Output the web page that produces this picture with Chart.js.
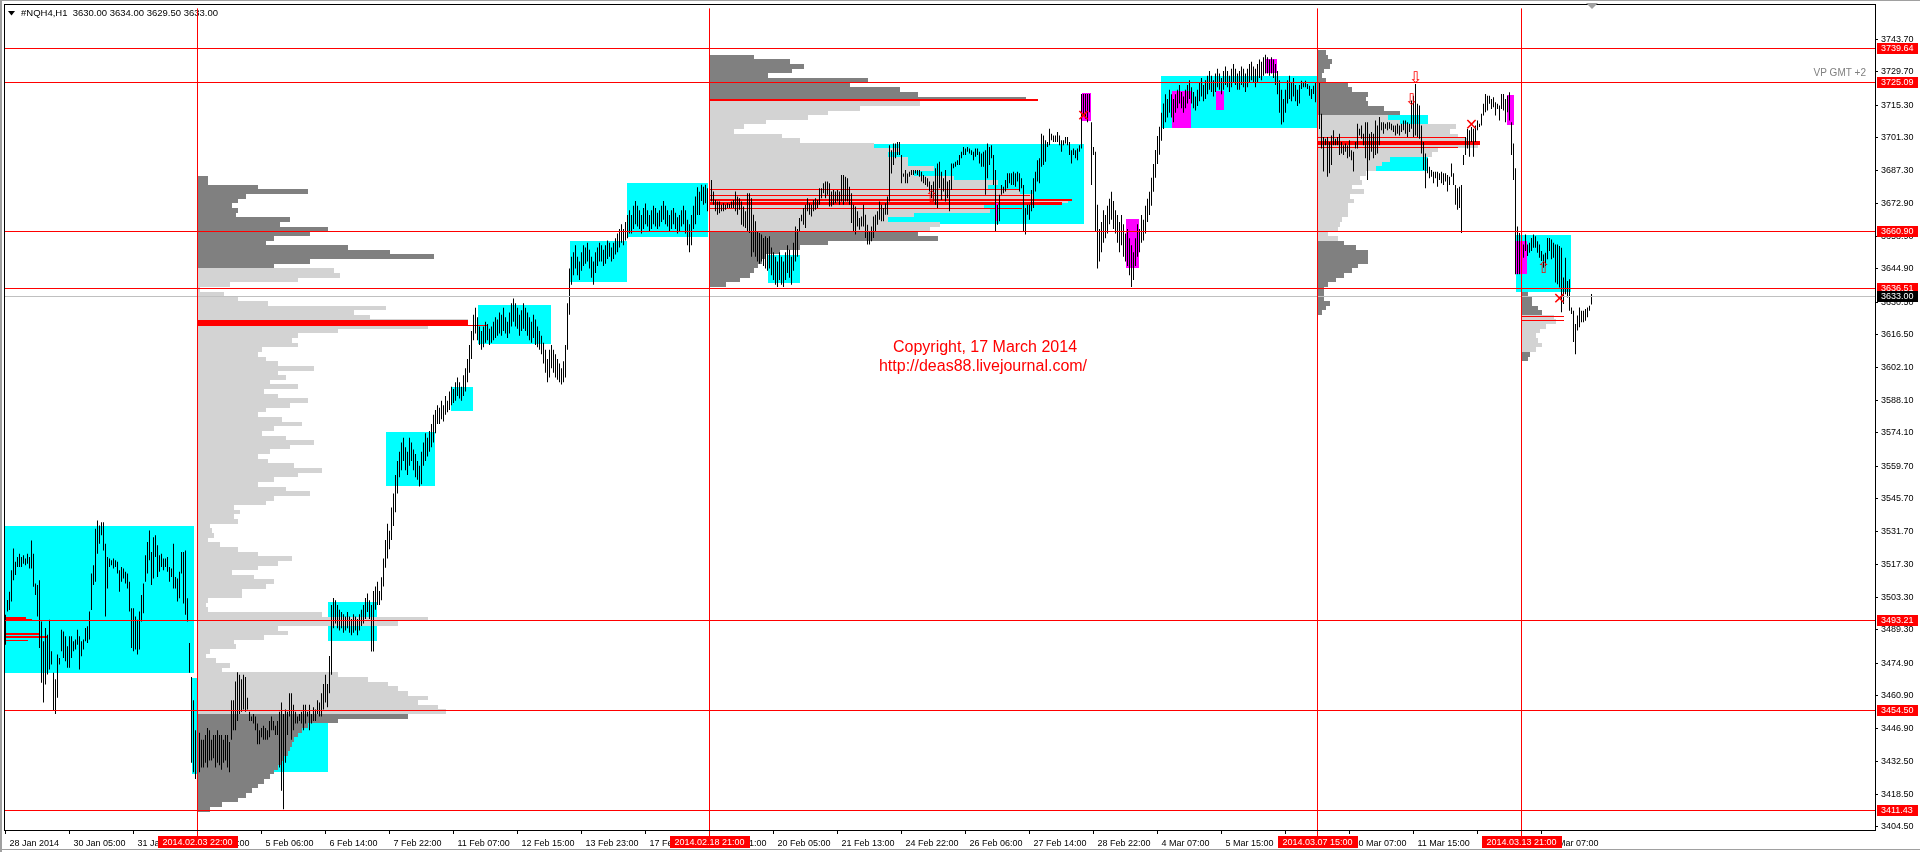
<!DOCTYPE html>
<html><head><meta charset="utf-8">
<script src="https://cdn.jsdelivr.net/npm/chart.js@4.4.0/dist/chart.umd.min.js"></script>
<style>html,body{margin:0;padding:0;background:#fff;overflow:hidden}canvas{display:block}</style>
</head><body>
<canvas id="c" width="1920" height="852"></canvas>
<script>
// ---- hourly bars of #NQH4,H1 : [high, low] ----
const barHL = [
[3495.8,3482.9],[3502.2,3497.2],[3505.7,3497.9],[3515.0,3501.5],[3524.3,3510.7],[3518.6,3512.9],[3520.7,3516.4],[3522.1,3516.4],[3520.7,3516.4],[3521.4,3517.8],
[3520.0,3517.1],[3522.1,3517.8],[3520.7,3515.7],[3527.8,3515.7],[3522.1,3507.9],[3509.3,3504.3],[3508.6,3495.0],[3510.7,3481.5],[3492.9,3466.5],[3484.4,3458.0],
[3490.1,3465.8],[3487.2,3470.1],[3493.6,3472.2],[3480.1,3474.4],[3470.8,3454.4],[3468.0,3453.0],[3478.7,3460.1],[3477.2,3474.4],[3489.3,3480.1],[3488.6,3477.2],
[3486.5,3475.8],[3482.2,3473.0],[3486.5,3473.0],[3486.5,3477.2],[3484.4,3480.1],[3485.1,3480.8],[3489.3,3482.9],[3486.5,3472.2],[3484.4,3477.9],[3485.1,3480.8],
[3490.1,3484.4],[3490.8,3483.6],[3497.2,3485.1],[3513.6,3497.9],[3517.1,3508.6],[3532.8,3510.0],[3536.4,3522.1],[3534.2,3526.4],[3535.7,3530.0],[3535.7,3523.5],
[3526.4,3495.0],[3520.7,3507.1],[3520.0,3516.4],[3519.3,3517.1],[3520.0,3515.7],[3519.3,3516.4],[3518.6,3513.6],[3515.0,3505.7],[3516.4,3510.0],[3515.7,3511.4],
[3514.3,3509.3],[3513.6,3507.1],[3510.0,3497.2],[3498.6,3481.5],[3498.6,3480.1],[3495.0,3480.8],[3493.6,3478.7],[3497.2,3480.8],[3504.3,3492.9],[3509.3,3496.5],
[3521.4,3510.0],[3527.1,3513.6],[3532.1,3519.3],[3522.8,3508.6],[3529.2,3511.4],[3530.0,3520.7],[3525.7,3512.1],[3521.4,3514.3],[3522.1,3516.4],[3520.0,3515.0],
[3520.0,3516.4],[3520.7,3514.3],[3516.4,3510.0],[3515.7,3512.1],[3526.4,3507.1],[3512.1,3507.1],[3511.4,3501.5],[3514.3,3502.9],[3522.8,3513.6],[3522.8,3500.7],
[3523.5,3495.8],[3502.9,3492.9],[3483.6,3470.8],
[3469,3432],[3459,3428],[3446,3425],[3440,3426],[3445,3428],[3442,3430],[3442,3430],[3444,3432],[3447,3430],[3446,3433],
[3442,3433],[3444,3434],[3444,3430],[3446,3432],[3444,3431],[3444,3429],[3442,3432],[3444,3433],[3444,3430],[3441,3428],
[3459,3442],[3459,3446],[3467,3446],[3471,3450],[3470,3453],[3468,3454],[3470,3455],[3469,3454],[3460,3455],[3454,3450],
[3452,3450],[3453,3449],[3452,3446],[3449,3440],[3446,3440],[3447,3443],[3448,3442],[3447,3442],[3446,3442],[3450,3443],
[3452,3446],[3450,3446],[3448,3444],[3450,3444],[3454,3430],[3458,3420],[3453,3412],[3455,3432],[3454,3444],[3462,3452],
[3462,3442],[3457,3446],[3454,3449],[3452,3449],[3453,3450],[3454,3449],[3457,3446],[3457,3449],[3454,3452],[3457,3446],
[3453,3449],[3456,3450],[3455,3450],[3459,3453],[3458,3452],
[3462,3452],[3466,3455],[3470,3458],[3466,3456],[3478,3462],[3500,3470],[3503,3490],
[3502,3492],[3500,3490],[3498,3489],[3497,3490],[3496,3488],[3495,3489],[3497,3490],[3495,3488],[3494,3487],[3496,3488],
[3495,3489],[3494,3487],[3496,3489],[3498,3491],[3500,3492],[3503,3494],[3505,3497],[3502,3494],[3500,3480],[3506,3480],
[3508,3498],[3510,3500],[3506,3500],
[3512,3502],[3520,3508],[3528,3516],[3535,3520],[3532,3524],[3542,3528],[3548,3534],[3556,3540],[3562,3548],[3566,3555],
[3570,3558],[3572,3562],[3568,3558],[3566,3556],[3572,3560],[3570,3562],[3567,3558],[3565,3555],[3562,3554],[3560,3551],
[3566,3552],[3570,3560],[3574,3562],[3572,3564],[3575,3566],[3578,3568],
[3582,3570],[3584,3574],[3586,3578],[3585,3578],[3588,3580],[3586,3579],[3590,3582],[3588,3583],[3592,3584],[3594,3586],
[3593,3587],[3596,3588],[3598,3590],[3596,3589],[3594,3588],[3599,3590],[3602,3592],[3606,3596],[3612,3600],[3618,3606],
[3625,3614],[3628,3617],[3624,3614],[3620,3612],[3618,3610],[3620,3611],[3622,3613],[3621,3614],[3619,3612],[3620,3613],
[3622,3614],[3624,3615],[3623,3616],[3626,3617],[3625,3616],[3628,3618],[3624,3617],[3622,3615],[3626,3617],[3630,3620],
[3632,3622],[3630,3620],[3628,3619],[3625,3616],[3627,3618],[3630,3619],[3628,3618],[3626,3616],[3624,3614],[3622,3613],
[3625,3615],[3623,3612],[3620,3611],[3618,3610],[3616,3608],[3613,3604],[3610,3600],[3606,3596],[3610,3598],
[3612,3602],[3610,3600],[3608,3598],[3606,3597],[3604,3596],[3602,3595],[3605,3596],[3612,3598],[3630,3610],[3645,3625],[3650,3638],
[3652,3642],[3655,3645],[3650,3642],[3648,3640],[3652,3644],[3655,3646],[3654,3647],[3656,3648],[3653,3645],[3650,3641],
[3648,3638],[3652,3643],[3654,3646],[3656,3648],[3655,3648],[3653,3646],[3655,3647],[3657,3649],[3656,3650],[3654,3648],
[3656,3649],[3658,3651],[3660,3652],[3662,3654],[3664,3656],[3662,3655],[3665,3657],[3668,3658],
[3670,3660],[3668,3660],[3672,3662],[3674,3664],[3672,3663],[3670,3662],[3668,3660],[3671,3662],[3673,3664],[3670,3663],
[3668,3661],[3670,3662],[3672,3664],[3671,3663],[3669,3662],[3670,3663],[3672,3665],[3674,3666],[3672,3664],[3670,3663],
[3668,3661],[3670,3662],[3671,3664],[3669,3662],[3667,3660],[3668,3661],[3670,3663],[3672,3664],[3670,3660],[3666,3655],
[3664,3652],[3668,3655],[3672,3662],[3676,3664],[3680,3668],[3678,3668],
[3681.0,3674.0],[3680.2,3672.4],[3681.0,3673.1],[3679.5,3669.6],[3682.4,3675.2],[3683.1,3673.8],[3678.1,3672.4],[3674.5,3669.6],[3673.8,3668.1],[3673.8,3668.8],
[3672.4,3669.6],[3673.1,3669.6],[3672.4,3670.3],[3673.1,3671.0],[3672.7,3671.0],[3673.8,3671.0],[3674.5,3671.0],[3678.1,3669.6],[3676.0,3668.1],[3675.2,3670.3],
[3673.8,3663.8],[3671.7,3663.1],[3669.6,3662.4],[3677.4,3661.0],[3677.4,3660.3],[3675.2,3650.0],[3668.1,3652.0],[3665.3,3650.0],[3661.0,3648.0],[3660.3,3647.0],
[3659.6,3648.0],[3658.1,3646.0],[3658.9,3645.0],[3658.1,3644.0],[3658.9,3645.0],[3654,3642],[3652,3640],[3650,3638],[3648,3637],[3652,3640],
[3650,3638],[3648,3637],[3652,3640],[3655,3643],[3653,3641],[3650,3638],[3656,3644],[3663,3648],[3662,3650],[3666.7,3661.0],
[3668.1,3665.3],[3671.0,3663.8],[3672.4,3662.4],[3675.2,3669.6],[3673.1,3668.1],[3672.4,3667.4],[3674.5,3669.6],[3675.2,3670.3],[3674.5,3671.0],[3679.5,3672.4],
[3679.5,3675.2],[3681.7,3677.4],[3682.4,3675.2],[3682.4,3676.7],[3681.7,3671.7],[3678.1,3671.7],[3678.8,3672.4],[3678.1,3673.1],[3678.8,3673.8],[3678.1,3672.4],
[3685.2,3673.8],[3685.2,3672.4],[3684.5,3673.8],[3683.8,3673.8],[3680.2,3672.4],[3677.4,3664.6],[3672.4,3661.0],[3671.7,3659.6],[3669.6,3663.1],[3666.7,3661.7],
[3667.4,3663.1],[3672.4,3663.1],[3668.1,3658.1],[3663.8,3655.3],[3661.0,3655.3],[3663.1,3656.7],[3667.4,3658.1],[3668.1,3661.0],[3669.6,3663.8],[3673.8,3666.0],
[3672.4,3665.3],[3671.0,3665.3],[3673.1,3668.1],[3676.0,3668.1],[3698.1,3673.8],[3695.9,3685.9],[3698.8,3689.5],[3698.8,3692.4],[3699.5,3693.8],[3699.5,3693.8],
[3693.8,3681.7],[3685.9,3684.5],[3687.4,3681.7],[3685.9,3681.7],[3686.6,3684.5],[3687.4,3685.2],[3687.4,3685.2],[3687.4,3685.9],[3687.4,3685.2],[3687.4,3684.5],
[3686.6,3682.4],[3685.2,3681.7],[3684.5,3680.9],[3683.8,3680.2],[3682.4,3678.1],[3680.9,3675.2],[3682.4,3673.8],[3688.1,3672.4],[3690.2,3671.0],[3690.9,3679.5],
[3686.6,3674.5],[3683.8,3678.1],[3687.4,3673.8],[3682.4,3675.2],[3683.1,3669.6],[3690.2,3678.8],[3690.2,3688.1],[3690.9,3688.8],[3691.6,3689.5],[3693.8,3689.5],
[3695.2,3692.4],[3697.3,3693.8],[3696.6,3693.8],[3697.3,3695.2],[3696.6,3694.5],[3695.9,3693.8],[3695.2,3691.6],[3696.6,3693.1],[3696.6,3693.8],[3695.2,3690.2],
[3694.5,3688.8],[3695.2,3688.8],[3695.9,3676.7],[3698.8,3683.8],[3697.3,3689.5],[3698.1,3692.4],[3693.8,3680.9],[3687.4,3661.0],[3672.4,3663.8],[3676.7,3665.3],
[3680.9,3676.7],[3680.2,3677.4],[3683.1,3678.1],[3686.0,3679.5],[3686.0,3681.7],[3686.0,3680.9],[3686.6,3680.9],[3686.0,3680.2],[3686.6,3682.4],[3686.0,3678.1],
[3683.8,3679.5],[3680.9,3661.0],[3671.0,3659.6],[3672.4,3668.1],[3672.4,3666.0],[3678.8,3669.6],[3683.8,3671.0],[3686.6,3678.1],[3691.6,3682.4],[3692.4,3681.7],
[3703.0,3688.8],[3702.3,3689.5],[3700.2,3690.9],[3699.5,3697.3],[3705.2,3698.1],[3703.0,3700.2],[3702.3,3699.5],[3702.3,3699.5],[3703.8,3699.5],[3702.3,3698.1],
[3700.2,3695.2],[3700.2,3698.1],[3701.6,3698.8],[3701.6,3698.1],[3699.5,3693.8],[3695.9,3690.2],[3696.6,3693.8],[3695.9,3692.4],[3696.6,3691.6],[3698.1,3695.2],
[3720.1,3696.6],[3720.1,3710.9],[3720.1,3709.5],[3720.1,3708.0],[3720.1,3712.3],[3708.0,3680.9],[3697.3,3693.8],[3695.2,3661.0],[3672.4,3645.0],
[3662,3648],[3665,3652],[3670,3656],[3668,3658],[3672,3660],[3675,3664],[3678,3666],[3674,3662],[3670,3660],[3668,3656],
[3665,3652],[3668,3655],[3664,3650],[3660,3648],[3662,3646],[3658,3642],[3655,3637],[3652,3640],[3658,3646],[3664,3650],
[3662,3652],[3668,3656],[3666,3657],[3672,3660],[3675,3665],[3678,3668],[3684,3672],[3690,3678],[3696,3684],[3702,3690],
[3706,3694],[3712,3700],[3716,3705],[3720,3708],[3718,3710],[3722,3712],[3720,3710],[3718,3708],[3720,3712],[3722,3714],
[3724,3716],[3721,3714],[3719,3712],[3722,3714],[3724,3716],[3726,3718],[3723,3716],[3721,3714],[3719,3713],[3722,3715],
[3725,3717],[3727,3719],[3724,3717],[3726,3718],[3728,3720],[3730,3722],[3728,3721],[3726,3719],[3729,3721],[3731,3723],
[3729,3722],[3727,3720],[3730,3722],[3732,3724],[3730,3723],[3728,3721],[3731,3723],[3733,3725],[3731,3724],[3729,3722],
[3730,3722],[3732,3724],[3731,3723],[3729,3721],[3731,3723],[3733,3725],[3734,3726],[3732,3725],[3731,3723],[3733,3725],
[3735,3727],[3734,3726],[3736,3728],[3737,3729],[3736,3729],[3735,3728],[3736,3729],[3735,3727],[3733,3724],[3730,3720],
[3726,3712],[3722,3707],[3718,3708],[3722,3712],[3726,3716],[3728,3718],[3725,3717],[3727,3719],[3724,3717],[3722,3715],
[3724,3716],
[3725.8,3722.3],[3725.1,3723.0],[3725.8,3723.0],[3724.4,3722.3],[3723.7,3719.4],[3722.3,3718.0],[3723.7,3720.1],[3725.1,3716.6],[3738.5,3716.0],[3725.0,3705.0],
[3711.6,3696.6],[3701.6,3686.7],[3700.9,3698.1],[3701.6,3684.5],[3699.5,3686.0],[3702.3,3689.5],[3704.5,3698.1],[3700.9,3698.1],[3701.6,3698.1],[3703.0,3693.8],
[3699.5,3694.5],[3698.1,3693.8],[3698.8,3695.2],[3698.1,3692.4],[3700.2,3693.1],[3695.9,3691.6],[3695.2,3686.7],[3699.5,3696.6],[3707.3,3696.6],[3705.2,3702.3],
[3706.6,3700.9],[3703.0,3698.1],[3708.0,3692.4],[3708.0,3683.1],[3703.0,3691.6],[3703.8,3695.2],[3703.0,3692.4],[3708.7,3693.8],[3706.6,3694.5],[3710.2,3698.1],
[3708.0,3704.5],[3708.0,3703.0],[3707.3,3705.2],[3708.0,3704.5],[3708.0,3705.2],[3707.3,3704.5],[3706.6,3703.8],[3706.6,3702.3],[3707.3,3703.0],[3706.6,3702.3],
[3707.3,3703.8],[3708.7,3704.5],[3708.7,3703.0],[3708.0,3701.6],[3707.3,3703.8],[3717.3,3705.2],[3719.4,3701.6],[3724.4,3702.3],[3715.9,3701.6],[3715.2,3700.9],
[3706.6,3694.5],[3699.5,3687.4],[3694.5,3679.5],[3692.4,3686.0],[3688.8,3683.8],[3687.4,3684.5],[3686.6,3681.7],[3686.6,3683.8],[3686.6,3680.2],[3686.0,3683.1],
[3686.6,3681.7],[3686.0,3680.9],[3686.0,3682.4],[3685.2,3678.1],[3684.5,3680.9],[3690.2,3684.5],[3686.0,3680.9],[3680.9,3672.4],[3679.5,3670.3],[3680.2,3671.0],
[3680.9,3660.3],[3693.8,3689.5],[3701.6,3693.8],[3705.2,3696.6],[3704.5,3693.1],[3705.9,3699.5],[3705.2,3693.1],[3706.6,3699.5],[3708.7,3704.5],[3707.3,3705.9],
[3711.6,3706.6],[3715.9,3710.9],[3720.1,3712.3],[3719.4,3713.0],[3719.4,3715.9],[3718.0,3713.7],[3718.7,3714.4],[3716.6,3710.9],[3715.9,3713.7],[3715.2,3708.7],
[3720.1,3713.7],[3720.1,3713.0],[3718.0,3708.0],[3719.4,3712.3],[3720.9,3708.7],[3708.0,3693.8],[3698.8,3683.1],[3688.1,3642.5],[3663.1,3642.5],[3660.3,3642.5],
[3659.6,3641.1],[3655.3,3649.6],[3659.6,3652.5],[3655.3,3650.3],[3656.0,3651.7],[3658.1,3652.5],[3659.6,3653.9],[3658.9,3653.9],[3656.7,3651.7],[3655.3,3649.6],
[3652.5,3648.2],[3651.0,3645.3],[3651.7,3646.0],[3658.1,3648.9],[3658.1,3652.5],[3657.4,3648.9],[3656.0,3649.6],[3655.3,3638.9],[3655.3,3638.2],[3654.6,3636.8],
[3653.9,3626.1],[3641.1,3629.7],[3649.6,3633.9],[3639.6,3632.5],[3640.3,3626.8],[3628.2,3625.4],[3626.8,3613.3],[3621.1,3608.0],[3624.7,3618.3],[3628.2,3619.7],
[3626.8,3621.8],[3626.8,3621.8],[3627.5,3622.5],[3628.2,3624.0],[3628.9,3626.8],[3634.0,3629.5]
];

// ---- axes ----
const yTickValues = [3743.70,3729.70,3715.30,3701.30,3687.30,3672.90,3658.90,3644.90,3630.50,3616.50,3602.10,3588.10,3574.10,3559.70,3545.70,3531.70,3517.30,3503.30,3489.30,3474.90,3460.90,3446.90,3432.50,3418.50,3404.50];
const xTickBars = [0,32,64,96,128,160,192,224,256,288,320,352,384,416,448,480,512,544,576,608,640,672,704,736,768];
const xTickLabels = ['28 Jan 2014','30 Jan 05:00','31 Jan 13:00','3 Feb 22:00','5 Feb 06:00','6 Feb 14:00','7 Feb 22:00','11 Feb 07:00','12 Feb 15:00','13 Feb 23:00','17 Feb 07:00','18 Feb 21:00','20 Feb 05:00','21 Feb 13:00','24 Feb 22:00','26 Feb 06:00','27 Feb 14:00','28 Feb 22:00','4 Mar 07:00','5 Mar 15:00','6 Mar 23:00','10 Mar 07:00','11 Mar 15:00','12 Mar 23:00','14 Mar 07:00'];

// ---- levels and sessions ----
const levelPrices = [3739.64,3725.09,3660.90,3636.51,3493.21,3454.50,3411.43];
const currentPrice = 3633.00;
const sessionBars = [96,352,656,758];
const sessionLabels = ['2014.02.03 22:00','2014.02.18 21:00','2014.03.07 15:00','2014.03.13 21:00'];

// ---- volume profiles (row length in bars, rows every 2 points from the top price down) ----
const profileStartBar = [96,352,656,758];
const profileTopPrice = [3684,3736,3738,3634];
const profileValueArea = [[3453,3645],[3661,3717],[3657,3711],[3609,3625]];
const profile1Rows = [5,5,30,55,24,20,17,20,19,46,
41,65,56,38,34,75,96,118,56,38,
68,71,50,16,1,13,20,35,94,78,
86,135,115,70,50,47,50,32,30,34,
40,58,40,44,36,50,33,40,55,46,
34,30,42,52,38,32,44,58,46,36,
30,35,48,62,50,38,30,44,56,38,
34,18,21,18,20,6,7,8,5,11,
20,30,47,40,30,17,28,38,34,22,
22,5,4,5,62,115,100,40,45,33,
18,19,6,4,9,16,12,70,85,95,
100,105,115,110,120,124,105,70,55,52,
50,48,47,46,45,43,42,40,38,36,
33,30,27,24,20,12,6];
const profile2Rows = [22,40,47,41,29,79,70,95,104,158,
105,75,59,49,28,17,12,36,45,82,
95,89,99,99,112,102,122,144,139,155,
162,179,137,140,102,89,115,110,104,114,
59,45,35,28,26,24,22,20,15,8];
const profile3Rows = [4,5,7,6,3,2,4,15,17,25,
24,25,33,41,35,41,69,66,70,75,
80,60,57,36,32,29,24,21,22,17,
23,16,18,15,15,15,12,11,10,5,
10,13,19,25,25,25,20,17,13,9,
5,3,3,3,6,4,2];
const profile4Rows = [3,5,5,8,10,16,17,12,9,7,8,10,7,4,3];

// ---- red POC / level segments: [price, fromBar, toBar, thickness] ----
const redSegments = [
[3494.6,-0.75,10,2],[3493.8,-0.75,13,1],[3487.5,-0.75,17,2],[3486.2,-0.75,21,2],[3484.6,-0.75,11,1],
[3621.3,96,231,6],[3620.5,96,241,1],
[3717.7,352,516,2],[3679.2,352,507,1],[3676.2,352,512,1],[3674.3,352,533,2],[3673.0,352,528,3],[3671.0,352,508,1],
[3701.3,656,730,1],[3699.0,656,737,4],[3697.1,656,726,1],
[3624.4,758,779,1],[3622.7,758,779,1]
];

// ---- boxes: [fromBar, toBar, lowPrice, highPrice] ----
const cyanBoxes = [
[-0.75,94,3470.7,3533.9],[93,96,3427,3468.7],[134,161,3428,3468],[161.3,185.8,3484.6,3501.4],
[190,214.6,3551.1,3574.7],[222.6,233.6,3583.6,3594],[236,272.7,3612.4,3629.1],[282,310.7,3639.1,3656.9],
[310.7,351,3658.4,3682],[381,397,3638.5,3650.6],[432,539,3664.3,3698.5],[577.5,655.5,3705.5,3728],
[685,711,3686.9,3710.9],[755,782.7,3635,3659.6]
];
const magentaBoxes = [
[538,542.7,3708.3,3720.4],[560.4,566.5,3645.3,3666.3],[583,592.8,3705.5,3721.3],[605,609.3,3713.4,3721.3],
[629.5,635.6,3729.1,3735.4],[750.7,754,3706.6,3719.7],[755,760.7,3642.5,3657],[494.8,496.3,3665.3,3673]
];
// ---- signal markers: [bar, price, glyph] ----
const markers = [[705,3726.8,'\u21E9'],[703,3717.3,'\u21E9'],[769,3644.6,'\u21E7'],[463,3675.3,'\u21E7'],[733,3706.6,'\u2715'],[777,3631.5,'\u2715'],[539,3710.2,'\u2715']];

const FONT = '"Liberation Sans", Arial, sans-serif';

const overlay = {
  id: 'overlay',
  beforeDatasetsDraw(chart) {
    const {ctx, chartArea: a, scales: {x, y}} = chart;
    const rx = v => Math.round(x.getPixelForValue(v));
    const ry = v => Math.round(y.getPixelForValue(v));
    ctx.save();
    ctx.beginPath(); ctx.rect(a.left, a.top, a.right - a.left, a.bottom - a.top); ctx.clip();
    const box = (b, c) => { const x0 = rx(b[0]), x1 = rx(b[1]), y0 = ry(b[3]), y1 = ry(b[2]); ctx.fillStyle = c; ctx.fillRect(x0, y0, x1 - x0, y1 - y0); };
    cyanBoxes.forEach(b => box(b, '#00ffff'));
    const rowsList = [profile1Rows, profile2Rows, profile3Rows, profile4Rows];
    rowsList.forEach((rows, k) => {
      const s = profileStartBar[k], va = profileValueArea[k];
      rows.forEach((len, r) => {
        const p = profileTopPrice[k] - 2 * r;
        const y0 = ry(p + 1), y1 = ry(p - 1), x0 = rx(s), x1 = rx(s + len);
        ctx.fillStyle = (p > va[0] && p < va[1]) ? '#d3d3d3' : '#808080';
        ctx.fillRect(x0, y0, x1 - x0, y1 - y0);
      });
    });
    ctx.fillStyle = '#ff0000';
    redSegments.forEach(s => {
      const yy = y.getPixelForValue(s[0]);
      const x0 = rx(s[1]), x1 = rx(s[2]);
      ctx.fillRect(x0, Math.round(yy - s[3] / 2), x1 - x0, s[3]);
    });
    magentaBoxes.forEach(b => box(b, '#ff00ff'));
    // header
    ctx.fillStyle = '#000';
    ctx.beginPath(); ctx.moveTo(8, 11); ctx.lineTo(15, 11); ctx.lineTo(11.5, 15.5); ctx.closePath(); ctx.fill();
    ctx.font = '9.5px ' + FONT; ctx.textBaseline = 'middle'; ctx.textAlign = 'left';
    ctx.fillText('#NQH4,H1  3630.00 3634.00 3629.50 3633.00', 21, 13.5);
    ctx.restore();
  },
  afterDatasetsDraw(chart) {
    const {ctx, chartArea: a, scales: {x, y}} = chart;
    ctx.save();
    ctx.fillStyle = '#c0c0c0';
    ctx.fillRect(a.left, Math.floor(y.getPixelForValue(currentPrice)), a.right - a.left, 1);
    ctx.fillStyle = '#ff0000';
    levelPrices.forEach(p => ctx.fillRect(a.left, Math.floor(y.getPixelForValue(p)), a.right - a.left, 1));
    sessionBars.forEach(b => ctx.fillRect(Math.floor(x.getPixelForValue(b)), a.top, 1, a.bottom - a.top + 7));
    ctx.font = '16px "DejaVu Sans"'; ctx.textAlign = 'center'; ctx.textBaseline = 'middle';
    markers.forEach(m => { ctx.fillStyle = '#ff0000'; ctx.fillText(m[2], x.getPixelForValue(m[0]), y.getPixelForValue(m[1])); });
    ctx.fillStyle = '#ff0000'; ctx.font = '16px ' + FONT;
    ctx.fillText('Copyright, 17 March 2014', 985, 348);
    ctx.fillText('http://deas88.livejournal.com/', 983, 367);
    ctx.fillStyle = '#808080'; ctx.font = '10px ' + FONT; ctx.textAlign = 'right';
    ctx.fillText('VP GMT +2', 1866, 73);
    ctx.restore();
  },
  afterDraw(chart) {
    const {ctx, chartArea: a, scales: {x, y}} = chart;
    ctx.save();
    ctx.fillStyle = '#000';
    ctx.fillRect(4, 4, a.right - 3, 1);
    ctx.fillRect(4, 4, 1, a.bottom - 3);
    ctx.fillRect(a.right, 4, 1, a.bottom - 3);
    ctx.fillRect(4, a.bottom, a.right - 3, 1);
    ctx.fillStyle = '#a0a0a0';
    ctx.fillRect(0, 0, 1920, 1);
    ctx.fillRect(0, 0, 2, 852);
    ctx.fillRect(0, 849, 1920, 1);
    ctx.beginPath(); ctx.moveTo(1586, 3); ctx.lineTo(1598, 3); ctx.lineTo(1592, 9); ctx.closePath(); ctx.fill();
    ctx.font = '9px ' + FONT; ctx.textBaseline = 'middle';
    const lab = (p, bg) => {
      const yy = Math.floor(y.getPixelForValue(p)) + 0.5;
      ctx.fillStyle = bg; ctx.fillRect(a.right + 2, Math.round(yy - 5.5), 41, 11);
      ctx.fillStyle = '#fff'; ctx.textAlign = 'left'; ctx.fillText(p.toFixed(2), a.right + 6, yy + 0.5);
    };
    levelPrices.forEach(p => lab(p, '#ff0000'));
    lab(currentPrice, '#000000');
    sessionBars.forEach((b, i) => {
      const xx = Math.floor(x.getPixelForValue(b)) + 0.5;
      ctx.fillStyle = '#ff0000'; ctx.fillRect(Math.round(xx - 40), 836, 80, 12);
      ctx.fillStyle = '#fff'; ctx.textAlign = 'center'; ctx.fillText(sessionLabels[i], xx, 842.5);
    });
    ctx.restore();
  }
};

new Chart(document.getElementById('c'), {
  type: 'bar',
  data: { datasets: [{
    data: barHL.map((hl, i) => ({ x: i, y: [hl[1], hl[0]] })),
    backgroundColor: '#000000', borderWidth: 0, barThickness: 1, inflateAmount: 0, grouped: false
  }]},
  options: {
    responsive: false, animation: false, devicePixelRatio: 1, events: [],
    layout: { padding: { left: 4, top: 4, right: 0, bottom: 0 } },
    plugins: { legend: { display: false }, tooltip: { enabled: false } },
    scales: {
      x: {
        type: 'linear', min: -0.75, max: 934.75, offset: false, position: 'bottom',
        afterBuildTicks: s => { s.ticks = xTickBars.map(v => ({ value: v })); },
        afterFit: s => { s.height = 22; },
        ticks: { autoSkip: false, maxRotation: 0, minRotation: 0, align: 'start', labelOffset: 4, padding: 4, color: '#000',
          font: { family: FONT, size: 9 },
          callback: v => { const k = xTickBars.indexOf(v); return k >= 0 ? xTickLabels[k] : ''; } },
        grid: { display: true, drawOnChartArea: false, drawTicks: true, tickLength: 4, color: '#000', offset: false },
        border: { display: false }
      },
      y: {
        type: 'linear', position: 'right', min: 3403.08, max: 3757.0,
        afterBuildTicks: s => { s.ticks = yTickValues.map(v => ({ value: v })); },
        afterFit: s => { s.width = 45; },
        ticks: { autoSkip: false, padding: 3, color: '#000', font: { family: FONT, size: 9 },
          callback: v => Number(v).toFixed(2) },
        grid: { display: true, drawOnChartArea: false, drawTicks: true, tickLength: 3, color: '#000' },
        border: { display: false }
      }
    }
  },
  plugins: [overlay]
});
</script>
</body></html>
